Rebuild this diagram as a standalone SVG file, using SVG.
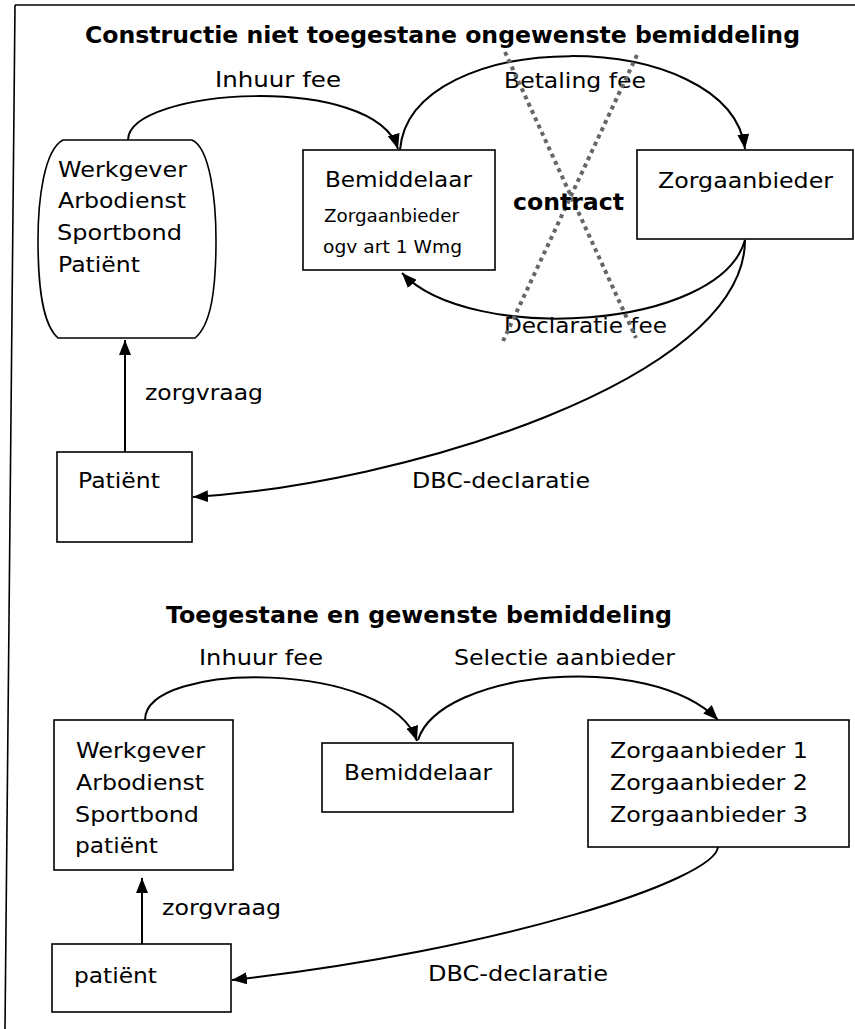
<svg xmlns="http://www.w3.org/2000/svg" width="855" height="1029" viewBox="0 0 855 1029">
<style>
text{font-family:"DejaVu Sans",Verdana,sans-serif;fill:#000}
.t{font-size:22px}
.s{font-size:17px}
.b{font-size:23px;font-weight:bold}
.box{fill:#fff;stroke:#000;stroke-width:1.6}
.c{fill:none;stroke:#000;stroke-width:2;marker-end:url(#ah)}
.x{fill:none;stroke:#666;stroke-width:4;stroke-dasharray:4 4}
</style>
<defs>
<marker id="ah" markerUnits="userSpaceOnUse" markerWidth="16" markerHeight="12" refX="15" refY="6" orient="auto">
<path d="M0,0 L15,6 L0,12 z" fill="#000"/>
</marker>
</defs>
<rect width="855" height="1029" fill="#fff"/>
<g id="frame" fill="none" stroke="#000" stroke-width="1.6">
<line x1="15" y1="5" x2="855" y2="5"/>
<line x1="15" y1="5" x2="5" y2="1029"/>
</g>
<g id="titles">
<text class="b" x="85" y="43" textLength="715" lengthAdjust="spacingAndGlyphs">Constructie niet toegestane ongewenste bemiddeling</text>
<text class="b" x="166" y="623" textLength="506" lengthAdjust="spacingAndGlyphs">Toegestane en gewenste bemiddeling</text>
</g>
<g id="connectors">
<path class="c" d="M128,140 C128,88 375,72 398,149"/>
<path class="c" d="M400,150 C410,25 730,25 745,149"/>
<path class="c" d="M745,240 C720,330 470,345 402,273"/>
<path class="c" d="M745,240 C745,380 400,485 193,497"/>
<path class="c" d="M125,452 L125,340"/>
<path class="c" d="M145,720 C145,660 390,660 417,741"/>
<path class="c" d="M418,740 C440,670 650,650 718,720"/>
<path class="c" d="M718,847 C715,880 500,950 232,980"/>
<path class="c" d="M142,944 L142,878"/>
</g>
<g id="labels">
<text class="t" x="215" y="87" textLength="126" lengthAdjust="spacingAndGlyphs">Inhuur fee</text>
<text class="t" x="504" y="88" textLength="142" lengthAdjust="spacingAndGlyphs">Betaling fee</text>
<text class="t" x="504" y="333" textLength="163" lengthAdjust="spacingAndGlyphs">Declaratie fee</text>
<text class="t" x="145" y="400" textLength="118" lengthAdjust="spacingAndGlyphs">zorgvraag</text>
<text class="t" x="412" y="488" textLength="178" lengthAdjust="spacingAndGlyphs">DBC-declaratie</text>
<text class="t" x="199" y="665" textLength="124" lengthAdjust="spacingAndGlyphs">Inhuur fee</text>
<text class="t" x="454" y="665" textLength="221" lengthAdjust="spacingAndGlyphs">Selectie aanbieder</text>
<text class="t" x="162" y="915" textLength="119" lengthAdjust="spacingAndGlyphs">zorgvraag</text>
<text class="t" x="428" y="981" textLength="180" lengthAdjust="spacingAndGlyphs">DBC-declaratie</text>
</g>
<g id="node-werkgever-1">
<path class="box" d="M63,140 L192,140 C210,148 216,200 216,240 C216,290 211,325 195,338 L58,338 C43,325 38,290 38,240 C38,200 44,150 63,140 Z"/>
<text class="t" x="58" y="177" textLength="129" lengthAdjust="spacingAndGlyphs">Werkgever</text>
<text class="t" x="58" y="208" textLength="128" lengthAdjust="spacingAndGlyphs">Arbodienst</text>
<text class="t" x="57" y="240" textLength="125" lengthAdjust="spacingAndGlyphs">Sportbond</text>
<text class="t" x="58" y="272" textLength="82" lengthAdjust="spacingAndGlyphs">Patiënt</text>
</g>
<g id="node-bemiddelaar-1">
<rect class="box" x="303" y="150" width="192" height="120"/>
<text class="t" x="325" y="187" textLength="147" lengthAdjust="spacingAndGlyphs">Bemiddelaar</text>
<text class="s" x="324" y="222" textLength="135" lengthAdjust="spacingAndGlyphs">Zorgaanbieder</text>
<text class="s" x="323" y="253" textLength="139" lengthAdjust="spacingAndGlyphs">ogv art 1 Wmg</text>
</g>
<g id="node-zorgaanbieder-1">
<rect class="box" x="637" y="150" width="216" height="89"/>
<text class="t" x="658" y="188" textLength="175" lengthAdjust="spacingAndGlyphs">Zorgaanbieder</text>
</g>
<g id="contract">
<line class="x" x1="505" y1="52" x2="636" y2="338"/>
<line class="x" x1="637" y1="55" x2="503" y2="341"/>
<text class="b" x="513" y="210" textLength="111" lengthAdjust="spacingAndGlyphs">contract</text>
</g>
<g id="node-patient-1">
<rect class="box" x="57" y="452" width="135" height="90"/>
<text class="t" x="78" y="488" textLength="82" lengthAdjust="spacingAndGlyphs">Patiënt</text>
</g>
<g id="node-werkgever-2">
<rect class="box" x="54" y="720" width="179" height="150"/>
<text class="t" x="76" y="758" textLength="129" lengthAdjust="spacingAndGlyphs">Werkgever</text>
<text class="t" x="76" y="790" textLength="128" lengthAdjust="spacingAndGlyphs">Arbodienst</text>
<text class="t" x="75" y="822" textLength="124" lengthAdjust="spacingAndGlyphs">Sportbond</text>
<text class="t" x="75" y="853" textLength="83" lengthAdjust="spacingAndGlyphs">patiënt</text>
</g>
<g id="node-bemiddelaar-2">
<rect class="box" x="322" y="743" width="191" height="69"/>
<text class="t" x="344" y="780" textLength="148" lengthAdjust="spacingAndGlyphs">Bemiddelaar</text>
</g>
<g id="node-zorgaanbieders-2">
<rect class="box" x="588" y="720" width="261" height="127"/>
<text class="t" x="610" y="758" textLength="198" lengthAdjust="spacingAndGlyphs">Zorgaanbieder 1</text>
<text class="t" x="610" y="790" textLength="198" lengthAdjust="spacingAndGlyphs">Zorgaanbieder 2</text>
<text class="t" x="610" y="822" textLength="198" lengthAdjust="spacingAndGlyphs">Zorgaanbieder 3</text>
</g>
<g id="node-patient-2">
<rect class="box" x="52" y="944" width="179" height="68"/>
<text class="t" x="74" y="983" textLength="83" lengthAdjust="spacingAndGlyphs">patiënt</text>
</g>
</svg>
